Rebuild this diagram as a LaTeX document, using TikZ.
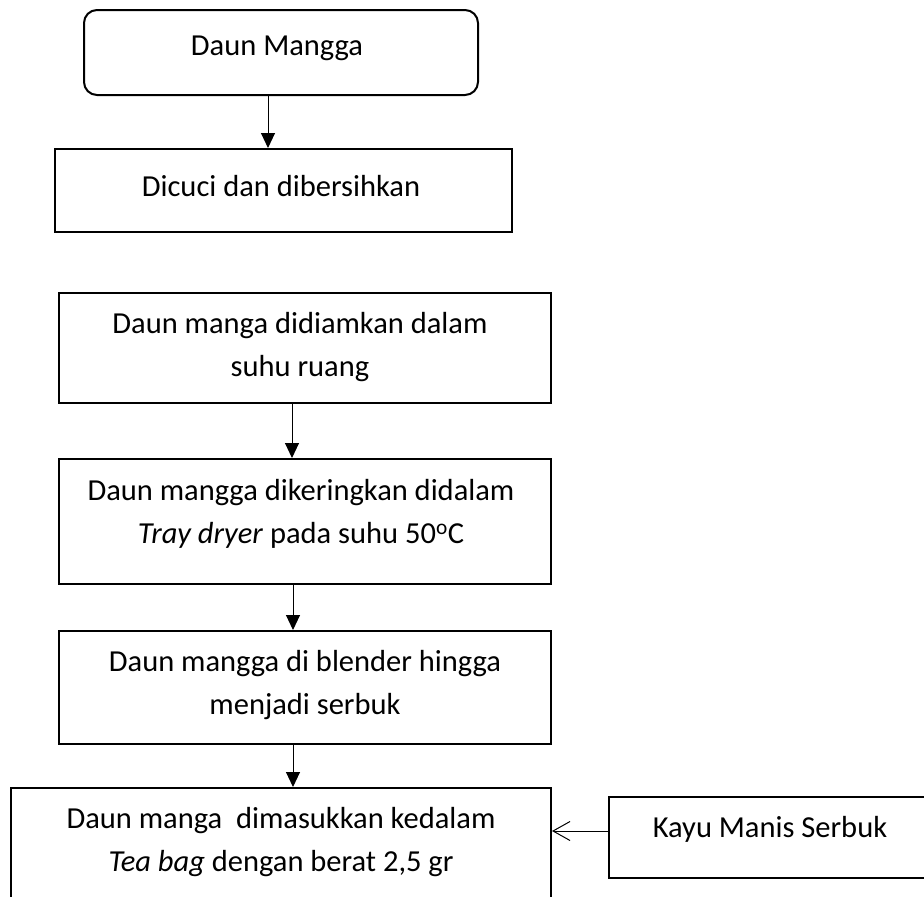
\documentclass[tikz,border=0pt]{standalone}
\usepackage{fontspec}
\setmainfont{Carlito}
\usetikzlibrary{arrows.meta}
\begin{document}
\begin{tikzpicture}[x=1pt,y=-1pt,
  box/.style={draw, line width=2pt, inner sep=0pt},
  lbl/.style={inner sep=0pt, align=center, font=\fontsize{30.5}{43}\selectfont},
  arr/.style={line width=1pt, -{Triangle[length=15pt,width=14pt]}},
  openarr/.style={line width=1pt, -{Straight Barb[length=17pt,width=19pt]}}]
\useasboundingbox (0,0) rectangle (924,897);
\clip (0,0) rectangle (924,897);
\fill[white] (0,0) rectangle (924,897);
% boxes
\node[box, rounded corners=13pt, minimum width=394pt, minimum height=85pt] (b1) at (281,52.5) {};
\node[box, minimum width=457pt, minimum height=83pt] (b2) at (283.5,190.5) {};
\node[box, minimum width=492pt, minimum height=110pt] (b3) at (305,348) {};
\node[box, minimum width=492pt, minimum height=125pt] (b4) at (305,521.5) {};
\node[box, minimum width=492pt, minimum height=113pt] (b5) at (305,687.5) {};
\node[box, minimum width=540pt, minimum height=132pt] (b6) at (281,854) {};
\node[box, minimum width=371pt, minimum height=81pt] (b7) at (794.5,837.5) {};
% texts
\node[lbl] (t1) at (277,48) {Daun Mangga};
\node[lbl] (t2) at (281,186) {Dicuci dan dibersihkan};
\node[lbl] (t3) at (300,347) {Daun manga didiamkan dalam\\suhu ruang};
\node[lbl] (t4) at (301,514) {Daun mangga dikeringkan didalam\\\textit{Tray dryer} pada suhu 50\textsuperscript{o}C};
\node[lbl] (t5) at (305,685) {Daun mangga di blender hingga\\menjadi serbuk};
\node[lbl] (t6) at (281,842) {Daun manga\ \ dimasukkan kedalam\\\textit{Tea bag} dengan berat 2,5 gr};
\node[lbl] (t7) at (770,829) {Kayu Manis Serbuk};
% connectors
\coordinate (ax1) at (268,0);
\coordinate (ax2) at (292,0);
\coordinate (ax3) at (293,0);
\coordinate (ay) at (0,831);
\draw[arr] (b1.south -| ax1) -- (b2.north -| ax1);
\draw[arr] (b3.south -| ax2) -- (b4.north -| ax2);
\draw[arr] (b4.south -| ax3) -- (b5.north -| ax3);
\draw[arr] (b5.south -| ax3) -- (b6.north -| ax3);
\draw[openarr] (b7.west |- ay) -- (b6.east |- ay);
\end{tikzpicture}
\end{document}
